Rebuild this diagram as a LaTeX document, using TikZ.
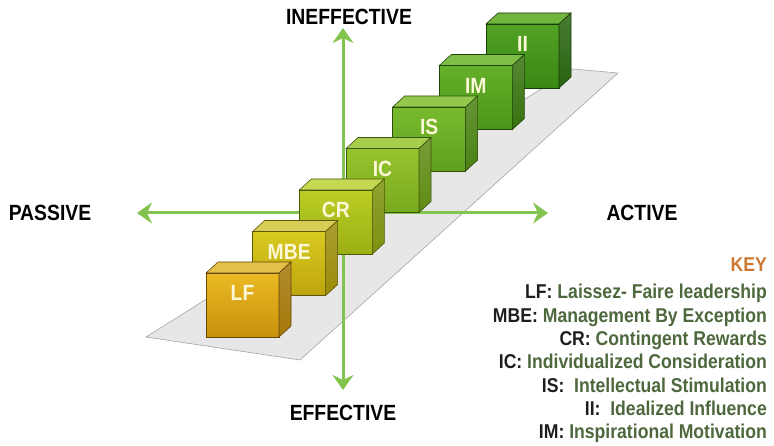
\documentclass[tikz,border=0pt]{standalone}
\usepackage{fontspec}
\setmainfont[FakeStretch=0.88]{Liberation Sans}
\usetikzlibrary{arrows.meta}
\definecolor{axisgreen}{RGB}{130,196,78}
\definecolor{platfill}{RGB}{231,231,231}
\definecolor{platedge}{RGB}{165,165,165}
\definecolor{keyorange}{RGB}{205,120,50}
\definecolor{keyab}{RGB}{30,30,30}
\definecolor{keydesc}{RGB}{78,104,62}
\definecolor{labcol}{RGB}{252,248,215}
% cube colours: front top, front bottom, top face, side face
\definecolor{LFa}{RGB}{236,186,36}\definecolor{LFb}{RGB}{200,145,12}\definecolor{LFt}{RGB}{228,192,72}\definecolor{LFs}{RGB}{165,120,10}
\definecolor{MBEa}{RGB}{216,202,32}\definecolor{MBEb}{RGB}{190,165,15}\definecolor{MBEt}{RGB}{216,206,86}\definecolor{MBEs}{RGB}{155,140,10}
\definecolor{CRa}{RGB}{186,206,36}\definecolor{CRb}{RGB}{155,175,20}\definecolor{CRt}{RGB}{196,216,82}\definecolor{CRs}{RGB}{125,145,15}
\definecolor{ICa}{RGB}{150,196,46}\definecolor{ICb}{RGB}{120,170,30}\definecolor{ICt}{RGB}{166,206,76}\definecolor{ICs}{RGB}{95,140,20}
\definecolor{ISa}{RGB}{120,186,46}\definecolor{ISb}{RGB}{95,160,30}\definecolor{ISt}{RGB}{146,200,76}\definecolor{ISs}{RGB}{75,130,20}
\definecolor{IMa}{RGB}{100,176,40}\definecolor{IMb}{RGB}{75,150,25}\definecolor{IMt}{RGB}{126,190,70}\definecolor{IMs}{RGB}{55,115,15}
\definecolor{IIa}{RGB}{82,162,36}\definecolor{IIb}{RGB}{56,136,20}\definecolor{IIt}{RGB}{112,182,62}\definecolor{IIs}{RGB}{40,100,15}
\tikzset{
  axislabel/.style={font=\bfseries\fontsize{22}{22}\selectfont, text=black, inner sep=0pt},
  cubelab/.style={font=\bfseries\fontsize{22}{22}\selectfont, text=labcol, inner sep=0pt},
  keyline/.style={font=\bfseries\fontsize{20}{20}\selectfont, text=keydesc, inner sep=0pt, anchor=base east},
  axisarrow/.style={draw=axisgreen, line width=3pt,
    {Stealth[length=15pt,width=21pt,inset=5pt]}-{Stealth[length=15pt,width=21pt,inset=5pt]}},
}
\begin{document}
\begin{tikzpicture}[x=1pt,y=-1pt]
\useasboundingbox (0,0) rectangle (774,446);
% platform
\filldraw[fill=platfill, draw=platedge, line width=0.6pt]
  (146,337) -- (300,360) -- (618,73) -- (573,69) -- cycle;
% axes
\coordinate (axtop) at (343,28);
\coordinate (axbot) at (343,390);
\coordinate (axleft) at (137,213);
\coordinate (axright) at (548,213);
\draw[axisarrow] (axbot) -- (axtop);
\draw[axisarrow] (axleft) -- (axright);
% cubes, back to front
\foreach \i/\lab in {6/II,5/IM,4/IS,3/IC,2/CR,1/MBE,0/LF}{
  \pgfmathsetmacro\X{206+46.67*\i}
  \pgfmathsetmacro\Y{273-41.5*\i}
  \path[top color=\lab a, bottom color=\lab b, draw=\lab s!60!black, line width=0.6pt]
    (\X,\Y) rectangle ++(73,64);
  \filldraw[fill=\lab t, draw=\lab s!60!black, line width=0.6pt]
    (\X,\Y) -- ++(12,-11) -- ++(73,0) -- ++(-12,11) -- cycle;
  \path[top color=\lab s!85!white, bottom color=\lab s, draw=\lab s!60!black, line width=0.6pt]
    (\X+73,\Y) -- ++(12,-11) -- ++(0,64) -- ++(-12,11) -- cycle;
  \node[cubelab] (cube\lab) at (\X+36.5,\Y+20) {\lab};
}
% axis labels
\node[axislabel] (ineff) at (349,17) {INEFFECTIVE};
\node[axislabel] (eff) at (343,413) {EFFECTIVE};
\node[axislabel] (passive) at (50,213) {PASSIVE};
\node[axislabel] (active) at (642,213) {ACTIVE};
% key
\node[keyline, text=keyorange] (key) at (767,272) {KEY};
\node[keyline] (k1) at (767,299) {\textcolor{keyab}{LF:} Laissez- Faire leadership};
\node[keyline] (k2) at (767,323) {\textcolor{keyab}{MBE:} Management By Exception};
\node[keyline] (k3) at (767,346) {\textcolor{keyab}{CR:} Contingent Rewards};
\node[keyline] (k4) at (767,369) {\textcolor{keyab}{IC:} Individualized Consideration};
\node[keyline] (k5) at (767,392) {\textcolor{keyab}{IS:}\ \ Intellectual Stimulation};
\node[keyline] (k6) at (767,415) {\textcolor{keyab}{II:}\ \ Idealized Influence};
\node[keyline] (k7) at (767,438) {\textcolor{keyab}{IM:} Inspirational Motivation};
\end{tikzpicture}
\end{document}
